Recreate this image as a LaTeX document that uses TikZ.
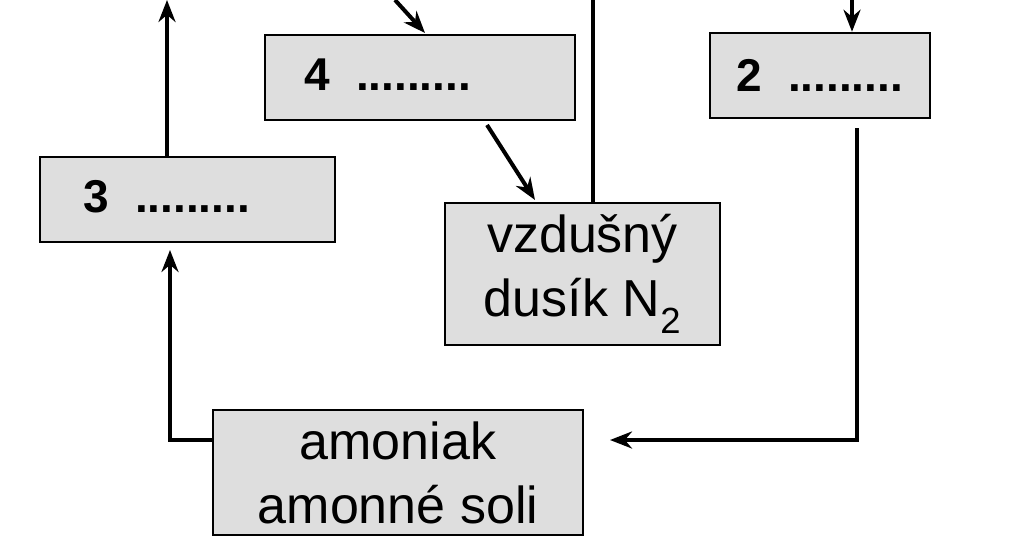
\documentclass[tikz,border=0pt]{standalone}
\usepackage{fontspec}
\setmainfont{Liberation Sans}
\usetikzlibrary{arrows.meta}
\tikzset{>={Stealth[length=22pt,width=17pt]}}
\tikzset{cyclebox/.style = {draw=black, fill=black!13, line width=2.5pt, inner sep=0pt},
         flow/.style = {line width=4pt}}

\begin{document}
\begin{tikzpicture}[x=1pt, y=-1pt]
		\useasboundingbox (0,0) rectangle (1024,543);

		% Boxes
		\node[cyclebox, minimum width=310pt, minimum height=85pt] (four) at (420,77.5) {};
		\node[font=\bfseries\fontsize{46}{50}\selectfont] at (388,75) {4 \ .........};
		\node[cyclebox, minimum width=220pt, minimum height=85pt] (two) at (820,75.5) {};
		\node[font=\bfseries\fontsize{46}{50}\selectfont] at (820,75) {2 \ .........};
		\node[cyclebox, minimum width=295pt, minimum height=85pt] (three) at (187.5,199.5) {};
		\node[font=\bfseries\fontsize{46}{50}\selectfont] at (167,197) {3 \ .........};
		\node[cyclebox, minimum width=275pt, minimum height=142pt, align=center,
		      font=\fontsize{52}{64}\selectfont] (nitro) at (582.5,274) {vzdušný\\dusík N\textsubscript{2}};
		\node[cyclebox, minimum width=370pt, minimum height=125pt, align=center,
		      font=\fontsize{52}{64}\selectfont] (ammo) at (398,472.5) {amoniak\\amonné soli};

		% Free ends
		\coordinate (outA) at (167,0);
		\coordinate (inA) at (395,0);
		\coordinate (outB) at (593,0);
		\coordinate (inB) at (852,0);

		% Arrows
		\draw[flow, ->] (three.north -| outA) -- (outA);
		\draw[flow, ->] (inA) -- (425,33);
		\draw[flow] (outB) -- (outB |- nitro.north);
		\draw[flow, ->] (inB) -- (inB |- two.north);
		\draw[flow, ->] (487,125) -- (535,200);
		\draw[flow, ->] (857,128) -- (857,440) -- (610,440);
		\draw[flow, ->] (ammo.west |- 0,440) -- (170,440) -- (170,250);
\end{tikzpicture}
\end{document}
